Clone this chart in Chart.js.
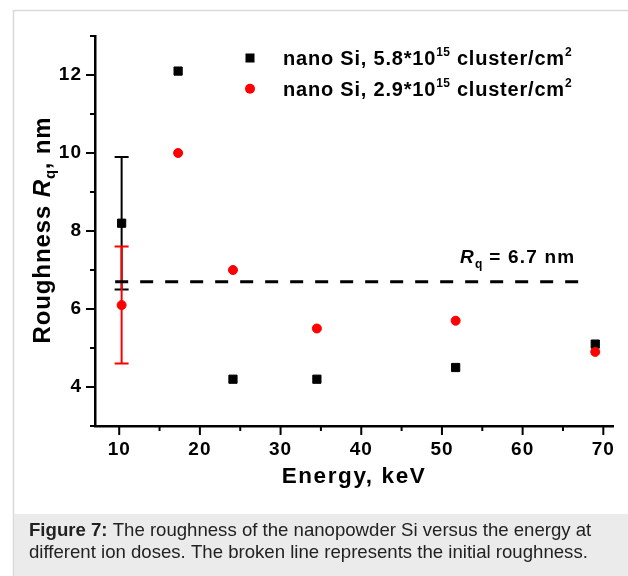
<!DOCTYPE html>
<html><head><meta charset="utf-8">
<script src="https://cdn.jsdelivr.net/npm/chart.js@4/dist/chart.umd.min.js"></script>
<style>html,body{margin:0;padding:0;background:#fff;}#wrap{position:relative;width:628px;height:576px;}</style>
</head><body><div id="wrap"><canvas id="c" width="628" height="576"></canvas></div>
<script>
// ---- data ----
const energy = [10.3, 17.3, 24.1, 34.5, 51.7, 69.0];          // keV
const rqDoseHigh = [8.2, 12.1, 4.2, 4.2, 4.5, 5.1];           // 5.8e15 cluster/cm2
const rqDoseLow  = [6.1, 10.0, 7.0, 5.5, 5.7, 4.9];           // 2.9e15 cluster/cm2
const errDoseHigh = [1.7, 0, 0, 0, 0, 0];
const errDoseLow  = [1.5, 0, 0, 0, 0, 0];
const initialRq = 6.7;
const initialSpan = [9.5, 67.4];
const xMajorTicks = [10, 20, 30, 40, 50, 60, 70];
const xMinorTicks = [15, 25, 35, 45, 55, 65];
const yMajorTicks = [4, 6, 8, 10, 12];
const yMinorTicks = [3, 5, 7, 9, 11, 13];
const legendLabels = [
  ['nano Si, 5.8*10', '15', ' cluster/cm', '2'],
  ['nano Si, 2.9*10', '15', ' cluster/cm', '2']
];
const captionBold = 'Figure 7:';
const captionLines = [' The roughness of the nanopowder Si versus the energy at',
  'different ion doses. The broken line represents the initial roughness.'];

const FONT = '"Liberation Sans", Arial, sans-serif';
function fnt(p){ return (p.italic?'italic ':'') + (p.bold?'bold ':'') + p.size + 'px ' + FONT; }
function richWidth(ctx, parts){
  let w = 0;
  for (const p of parts){ ctx.font = fnt(p); ctx.letterSpacing = (p.ls||0)+'px'; w += ctx.measureText(p.t).width; }
  return w;
}
function rich(ctx, parts, x, y, align){
  const w = richWidth(ctx, parts);
  let cx = x - w*(align||0);
  for (const p of parts){
    ctx.font = fnt(p); ctx.letterSpacing = (p.ls||0)+'px';
    ctx.fillStyle = p.color || '#000';
    ctx.textBaseline = 'alphabetic'; ctx.textAlign = 'left';
    ctx.fillText(p.t, cx, y + (p.dy||0));
    cx += ctx.measureText(p.t).width;
  }
}

const decor = {
  id: 'decor',
  beforeDraw(chart){
    const ctx = chart.ctx;
    ctx.save();
    ctx.fillStyle = '#fff'; ctx.fillRect(0,0,chart.width,chart.height);
    ctx.strokeStyle = '#d9d9d9'; ctx.lineWidth = 1.5;
    ctx.strokeRect(13.5, 10.5, 700, 700);
    ctx.fillStyle = '#ebebeb'; ctx.fillRect(14, 514, 640, 70);
    rich(ctx, [{t:captionBold, size:18.6, bold:true, color:'#222'}, {t:captionLines[0], size:18.6, color:'#222'}], 29, 536, 0);
    rich(ctx, [{t:captionLines[1], size:18.6, color:'#222'}], 29, 558, 0);
    ctx.restore();
    ctx.letterSpacing = '1px';
  },
  beforeDatasetsDraw(chart){
    const ctx = chart.ctx, xs = chart.scales.x, ys = chart.scales.y;
    ctx.save();
    const bars = [[rqDoseHigh, errDoseHigh, '#000'], [rqDoseLow, errDoseLow, '#ff0000']];
    for (const [vals, errs, col] of bars){
      ctx.strokeStyle = col; ctx.lineWidth = 2;
      energy.forEach((e,i)=>{
        if (!errs[i]) return;
        const px = xs.getPixelForValue(e);
        const top = ys.getPixelForValue(vals[i]+errs[i]);
        const bot = ys.getPixelForValue(vals[i]-errs[i]);
        ctx.beginPath();
        ctx.moveTo(px, top); ctx.lineTo(px, bot);
        ctx.moveTo(px-7, top); ctx.lineTo(px+7, top);
        ctx.moveTo(px-7, bot); ctx.lineTo(px+7, bot);
        ctx.stroke();
      });
    }
    ctx.restore();
  },
  afterDraw(chart){
    const ctx = chart.ctx, xs = chart.scales.x, ys = chart.scales.y, ca = chart.chartArea;
    ctx.save();
    ctx.strokeStyle = '#000'; ctx.lineWidth = 2;
    ctx.beginPath();
    for (const v of xMajorTicks){ const p = xs.getPixelForValue(v); ctx.moveTo(p, ca.bottom); ctx.lineTo(p, ca.bottom+9); }
    for (const v of xMinorTicks){ const p = xs.getPixelForValue(v); ctx.moveTo(p, ca.bottom); ctx.lineTo(p, ca.bottom+5); }
    for (const v of yMajorTicks){ const p = ys.getPixelForValue(v); ctx.moveTo(ca.left, p); ctx.lineTo(ca.left-9, p); }
    for (const v of yMinorTicks){ const p = ys.getPixelForValue(v); ctx.moveTo(ca.left, p); ctx.lineTo(ca.left-5, p); }
    ctx.stroke();
    rich(ctx, [{t:'Energy, keV', size:22.5, bold:true, ls:1.6}], 354, 483, 0.5);
    ctx.save();
    ctx.translate(50, 230); ctx.rotate(-Math.PI/2);
    rich(ctx, [{t:'Roughness ', size:24, bold:true, ls:0.9},{t:'R', size:24, bold:true, italic:true, ls:0.9},
               {t:'q', size:15, bold:true, dy:5, ls:0.5},{t:', nm', size:24, bold:true, ls:0.9}], 0, 0, 0.5);
    ctx.restore();
    rich(ctx, [{t:'R', size:19, bold:true, italic:true, ls:1.2},{t:'q', size:12, bold:true, dy:5, ls:0.5},
               {t:' = '+initialRq.toFixed(1)+' nm', size:19, bold:true, ls:1.2}], 460, 263, 0);
    const lx = 250, ly = [58, 88.7];
    ctx.fillStyle = '#000'; ctx.fillRect(lx-4.5, ly[0]-4.5, 9, 9);
    ctx.fillStyle = '#ff0000'; ctx.beginPath(); ctx.arc(lx, ly[1], 5, 0, Math.PI*2); ctx.fill();
    legendLabels.forEach((L,i)=>{
      rich(ctx, [{t:L[0], size:20, bold:true, ls:0.8},{t:L[1], size:12, bold:true, dy:-9, ls:0.5},
                 {t:L[2], size:20, bold:true, ls:0.8},{t:L[3], size:12, bold:true, dy:-9}], 283, ly[i]+7, 0);
    });
    ctx.restore();
  }
};

const tickFont = {family: FONT, size: 19, weight: 'bold'};
new Chart(document.getElementById('c'), {
  type: 'scatter',
  data: { datasets: [
    { label: 'nano Si, 2.9e15', order: 0, data: energy.map((e,i)=>({x:e, y:rqDoseLow[i]})),
      pointStyle: 'circle', pointRadius: 4.5, pointHoverRadius: 4.5, backgroundColor: '#ff0000', borderColor: '#ff0000', borderWidth: 1 },
    { label: 'nano Si, 5.8e15', order: 1, data: energy.map((e,i)=>({x:e, y:rqDoseHigh[i]})),
      pointStyle: 'rect', pointRadius: 5.8, pointHoverRadius: 5.8, backgroundColor: '#000', borderColor: '#000', borderWidth: 1 },
    { label: 'initial', order: 2, type: 'line', data: initialSpan.map(x=>({x, y:initialRq})),
      borderColor: '#000', borderWidth: 3, borderDash: [13, 12], pointRadius: 0, showLine: true, fill: false }
  ]},
  options: {
    responsive: false, animation: false, events: [],
    layout: { padding: { left: 0, top: 36, right: 15, bottom: 0 } },
    plugins: { legend: { display: false }, tooltip: { enabled: false } },
    scales: {
      x: { type: 'linear', min: 7, max: 71.2,
        afterFit: s => { s.height = 150; },
        afterBuildTicks: s => { s.ticks = xMajorTicks.map(v=>({value:v})); },
        grid: { display: false }, border: { display: true, color: '#000', width: 2.5 },
        ticks: { color: '#000', font: tickFont, padding: 4, maxRotation: 0, autoSkip: false } },
      y: { type: 'linear', min: 3, max: 13,
        afterFit: s => { s.width = 95; },
        afterBuildTicks: s => { s.ticks = yMajorTicks.map(v=>({value:v})); },
        grid: { display: false }, border: { display: true, color: '#000', width: 2.5 },
        ticks: { color: '#000', font: tickFont, padding: 5, autoSkip: false } }
    }
  },
  plugins: [decor]
});
</script></body></html>
